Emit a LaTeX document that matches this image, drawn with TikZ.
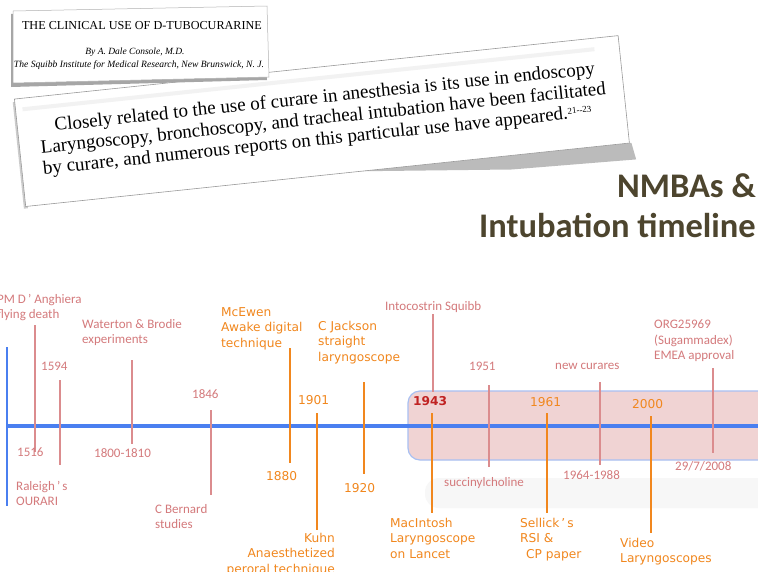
\documentclass[tikz,border=0pt]{standalone}
\usepackage{fontspec}
\setmainfont{Carlito}
\newfontfamily\handfont{DejaVu Sans}
\newfontfamily\paperfont{Liberation Serif}
\usetikzlibrary{positioning}
\usepackage{xcolor}
\definecolor{axisblue}{RGB}{74,127,240}
\definecolor{pinkline}{RGB}{219,140,142}
\definecolor{pinktext}{RGB}{212,122,124}
\definecolor{tickorange}{RGB}{241,135,30}
\definecolor{darkred}{RGB}{192,34,34}
\definecolor{boxfill}{RGB}{240,211,211}
\definecolor{boxedge}{RGB}{168,192,242}
\definecolor{titlecol}{RGB}{77,69,46}

\begin{document}
\begin{tikzpicture}[
    x=1pt, y=-1pt,
    pinklabel/.style={text=pinktext, font=\fontsize{13}{15.5}\selectfont, inner sep=0, align=left},
    orangelabel/.style={text=tickorange, font=\handfont\fontsize{12.2}{15.5}\selectfont, inner sep=0, align=left},
    pinktick/.style={draw=pinkline, line width=1.8pt},
    orangetick/.style={draw=tickorange, line width=2.2pt},
    papertext/.style={font=\paperfont\fontsize{19}{23}\selectfont, inner sep=0},
    titletext/.style={text=titlecol, font=\bfseries\fontsize{34.5}{40}\selectfont, inner sep=0}
  ]
    \clip (0,0) rectangle (758,571);
    \fill[white] (0,0) rectangle (758,571);

    % second clipping, tilted
    \begin{scope}[shift={(55,131)}, rotate=6, transform shape]
      \fill[black!33, opacity=.8] (300,72) -- (572,72) -- (575,89) -- (450,86) -- cycle;
      \fill[black!20] (-39,-33) rectangle (-35,74);
      \draw[black!40, fill=white, line width=.6pt] (-37,-36) rectangle (570,72);
      \fill[black!5] (-30,-27) rectangle (545,-23);
      \begin{scope}
        \clip (-37,-36) rectangle (570,72);
        \node[papertext, anchor=base west] (quote1) at (0,0) {Closely related to the use of curare in anesthesia is its use in endoscopy};
        \node[papertext, anchor=base west] (quote2) at (-16,21) {Laryngoscopy, bronchoscopy, and tracheal intubation have been facilitated};
        \node[papertext, anchor=base west] (quote3) at (-16,42) {by curare, and numerous reports on this particular use have appeared.\raisebox{5pt}{\fontsize{9}{9}\selectfont 21--23}};
      \end{scope}
    \end{scope}

    % first clipping
    \fill[black!35] (11,14) -- (265,9) -- (267,80) -- (11,87) -- cycle;
    \draw[black!30, fill=white, line width=.5pt] (13,11) -- (267,6) -- (269,77) -- (13,83) -- cycle;
    \node[font=\paperfont\fontsize{12.2}{14}\selectfont, inner sep=0, anchor=base] (papertitle) at (142,29) {THE CLINICAL USE OF D-TUBOCURARINE};
    \node[font=\paperfont\itshape\fontsize{9.5}{11}\selectfont, inner sep=0, anchor=base] (paperauthor) at (135,54) {By A. Dale Console, M.D.};
    \node[font=\paperfont\itshape\fontsize{9.6}{11}\selectfont, inner sep=0, anchor=base] (paperplace) at (139,67) {The Squibb Institute for Medical Research, New Brunswick, N. J.};

    % title
    \node[titletext, anchor=base east] (title1) at (756,197) {NMBAs \&};
    \node[titletext, anchor=base east] (title2) at (756,237) {Intubation timeline};

    % era box and axis
    \fill[black!3, rounded corners=14pt] (425,478) rectangle (775,508);
    \draw[draw=boxedge, fill=boxfill, line width=1.2pt, rounded corners=12pt] (408,391) rectangle (780,460);
    \draw[axisblue, line width=4pt] (7,426) -- (762,426);
    \draw[axisblue, line width=2pt] (7,347) -- (7,506);

    % curare ticks
    \draw[pinktick] (35,325) -- (35,452);
    \draw[pinktick] (60,380) -- (60,465);
    \draw[pinktick] (132,360) -- (132,444);
    \draw[pinktick] (211,410) -- (211,495);
    \draw[pinktick] (433,314) -- (433,392);
    \draw[pinktick] (489,385) -- (489,467);
    \draw[pinktick] (600,382) -- (600,465);
    \draw[pinktick] (713,368) -- (713,453);

    % intubation ticks
    \draw[orangetick] (290,348) -- (290,463);
    \draw[orangetick] (317,413) -- (317,530);
    \draw[orangetick] (364,382) -- (364,474);
    \draw[orangetick] (432,413) -- (432,513);
    \draw[orangetick] (547,413) -- (547,513);
    \draw[orangetick] (651,416) -- (651,533);

    % curare labels
    \node[pinklabel, anchor=north west] (anghiera) at (-3,294) {PM D\,’ Anghiera\\flying death};
    \node[pinklabel, anchor=north west] (y1516) at (17,448) {1516};
    \node[pinklabel, anchor=north west] (y1594) at (41,362) {1594};
    \node[pinklabel, anchor=north west] (raleigh) at (16,481) {Raleigh\,’\,s\\OURARI};
    \node[pinklabel, anchor=north west] (waterton) at (82,319) {Waterton \& Brodie\\experiments};
    \node[pinklabel, anchor=north west] (y1800) at (94,448) {1800-1810};
    \node[pinklabel, anchor=north west] (y1846) at (192,389) {1846};
    \node[pinklabel, anchor=north west] (bernard) at (155,504) {C Bernard\\studies};
    \node[pinklabel, anchor=north west] (intocostrin) at (385,301) {Intocostrin Squibb};
    \node[pinklabel, anchor=north west] (y1951) at (469,362) {1951};
    \node[pinklabel, anchor=north west] (sux) at (444,477) {succinylcholine};
    \node[pinklabel, anchor=north west] (newcurares) at (555,363) {new curares};
    \node[pinklabel, anchor=north west] (y1964) at (563,470) {1964-1988};
    \node[pinklabel, anchor=north west] (sugammadex) at (654,320) {ORG25969\\(Sugammadex)\\EMEA approval};
    \node[pinklabel, anchor=north west] (y2008) at (675,461) {29/7/2008};

    % intubation labels
    \node[orangelabel, anchor=north west] (mcewen) at (221,307) {McEwen\\Awake digital\\technique};
    \node[orangelabel, anchor=north west] (y1880) at (266,471) {1880};
    \node[orangelabel, anchor=north west] (y1901) at (298,395) {1901};
    \node[orangelabel, anchor=north east, align=right] (kuhn) at (335,533) {Kuhn\\Anaesthetized\\peroral technique};
    \node[orangelabel, anchor=north west] (jackson) at (318,321) {C Jackson\\straight\\laryngoscope};
    \node[orangelabel, anchor=north west] (y1920) at (344,483) {1920};
    \node[orangelabel, anchor=north west, text=darkred, font=\handfont\bfseries\fontsize{12.2}{15.5}\selectfont] (y1943) at (413,396) {1943};
    \node[orangelabel, anchor=north west] (macintosh) at (390,518) {MacIntosh\\Laryngoscope\\on Lancet};
    \node[orangelabel, anchor=north west] (y1961) at (530,397) {1961};
    \node[orangelabel, anchor=north west] (sellick) at (520,518) {Sellick\,’\,s\\RSI \&\\\hspace{6pt}CP paper};
    \node[orangelabel, anchor=north west] (y2000) at (632,399) {2000};
    \node[orangelabel, anchor=north west] (video) at (620,538) {Video\\Laryngoscopes};
  \end{tikzpicture}
\end{document}
